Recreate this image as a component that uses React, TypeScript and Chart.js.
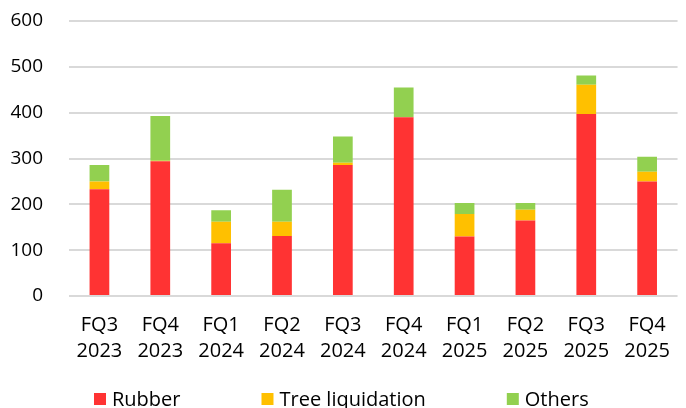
import React, { useEffect, useRef } from "react";
import { Chart, registerables } from "chart.js";

Chart.register(...registerables);

const categories: string[][] = [
  ["FQ3", "2023"], ["FQ4", "2023"], ["FQ1", "2024"], ["FQ2", "2024"], ["FQ3", "2024"],
  ["FQ4", "2024"], ["FQ1", "2025"], ["FQ2", "2025"], ["FQ3", "2025"], ["FQ4", "2025"],
];
const rubber: number[] = [233, 294, 115, 131, 286, 390, 130, 165, 397, 250];
const treeLiquidation: number[] = [17, 1, 47, 31, 5, 0, 49, 23, 64, 21];
const others: number[] = [36, 98, 25, 70, 57, 65, 24, 15, 20, 33];
const seriesNames: string[] = ["Rubber", "Tree liquidation", "Others"];
const seriesColors: string[] = ["#FF3333", "#FFC000", "#92D050"];

const FONT = "'Open Sans', 'Noto Sans', sans-serif";

const customLegend = {
  id: "customLegend",
  afterDraw(chart: any) {
    const ctx = chart.ctx;
    ctx.save();
    ctx.font = `20px ${FONT}`;
    ctx.textBaseline = "middle";
    ctx.textAlign = "left";
    let x = 94;
    const cy = 400;
    chart.data.datasets.forEach((ds: any) => {
      ctx.fillStyle = ds.backgroundColor;
      ctx.fillRect(x, 393, 12, 12);
      ctx.fillStyle = "#000";
      ctx.fillText(ds.label, x + 18, cy);
      x += 18 + ctx.measureText(ds.label).width + 81;
    });
    ctx.restore();
  },
};

export default function App() {
  const ref = useRef<HTMLCanvasElement | null>(null);
  useEffect(() => {
    if (!ref.current) return;
    const data = [rubber, treeLiquidation, others];
    const chart = new Chart(ref.current, {
      type: "bar",
      data: {
        labels: categories,
        datasets: seriesNames.map((name, i) => ({
          label: name,
          data: data[i],
          backgroundColor: seriesColors[i],
          borderWidth: 0,
          categoryPercentage: 1,
          barPercentage: 0.324,
        })),
      },
      options: {
        animation: false,
        responsive: false,
        maintainAspectRatio: false,
        layout: { padding: { top: 21, left: 0, right: 0, bottom: 28 } },
        plugins: { legend: { display: false }, tooltip: { enabled: false } },
        scales: {
          x: {
            stacked: true,
            grid: { display: false, drawTicks: false },
            border: { display: false },
            ticks: {
              color: "#000",
              padding: 16,
              font: { family: FONT, size: 20, lineHeight: 1.3 },
              maxRotation: 0,
              autoSkip: false,
            },
          },
          y: {
            stacked: true,
            min: 0,
            max: 600,
            afterFit: (scale: any) => {
              scale.width = 69;
              scale.paddingTop = 0;
              scale.paddingBottom = 0;
            },
            grid: { color: "#d9d9d9", lineWidth: 2, drawTicks: false },
            border: { display: false },
            ticks: {
              stepSize: 100,
              color: "#000",
              padding: 26,
              font: { family: FONT, size: 19 },
            },
          },
        },
      },
      plugins: [customLegend],
    });
    return () => chart.destroy();
  }, []);
  return (
    <div style={{ position: "fixed", left: 0, top: 0, width: 686, height: 408, background: "#fff" }}>
      <canvas ref={ref} width={686} height={408} style={{ display: "block", width: 686, height: 408 }} />
    </div>
  );
}
